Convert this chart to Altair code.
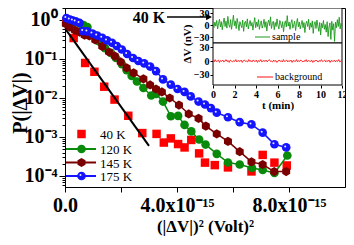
import altair as alt
import pandas as pd

FONT = "Liberation Serif"

# ---- main panel data: x in units of 1e-15 V^2, P(|dV|) ----
x40 = [0.05, 0.31, 0.72, 1.05, 1.40, 1.77, 2.26, 2.76, 3.27, 3.53, 3.78, 4.04, 4.27, 4.51,
       4.79, 5.00, 5.35, 5.82, 6.66, 7.06, 7.48, 7.92]
p40 = [0.9, 0.345, 0.079, 0.047, 0.0195, 0.0091, 0.0035, 0.00126, 0.0012, 0.00072, 0.00092,
       0.00066, 0.00054, 0.00084, 0.00038, 0.00022, 0.00019, 0.000166, 0.000131, 0.000347,
       0.00022, 0.000186]

x120 = [0.07, 0.21, 0.35, 0.52, 0.66, 0.80, 1.05, 1.22, 1.43, 1.64, 1.82, 2.03, 2.20, 2.38,
        2.57, 2.80, 3.08, 3.25, 3.50, 3.78, 4.04, 4.27, 4.51, 4.79, 5.02, 5.42, 5.82, 6.24,
        6.68, 7.06, 7.48, 7.94]
p120 = [1.06, 1.0, 0.89, 0.81, 0.74, 0.66, 0.41, 0.28, 0.19, 0.143, 0.106, 0.074, 0.052,
        0.037, 0.0265, 0.018, 0.0116, 0.0127, 0.0081, 0.0034, 0.00347, 0.00204, 0.00139,
        0.00086, 0.00064, 0.00037, 0.000222, 0.000197, 0.00016, 0.000143, 0.000119, 0.000336]

x145 = [0.03, 0.17, 0.35, 0.52, 0.70, 0.87, 1.08, 1.33, 1.57, 1.78, 1.99, 2.20, 2.45, 2.80,
        3.04, 3.25, 3.46, 3.74, 4.07, 4.42, 4.77, 5.03, 5.42, 5.82, 6.24, 6.66, 7.06, 7.47, 7.90]
p145 = [0.79, 0.66, 0.55, 0.49, 0.41, 0.39, 0.31, 0.21, 0.151, 0.119, 0.084, 0.059, 0.044,
        0.031, 0.0216, 0.017, 0.0143, 0.01, 0.0066, 0.0039, 0.003, 0.0019, 0.0012, 0.00077,
        0.00042, 0.00023, 0.000197, 0.00013, 0.00013]

x175 = [0.05, 0.17, 0.28, 0.38, 0.52, 0.65, 0.80, 0.98, 1.15, 1.33, 1.50, 1.68, 1.85, 2.03,
        2.22, 2.43, 2.62, 2.83, 3.04, 3.25, 3.50, 3.78, 4.02, 4.27, 4.49, 4.77, 5.00, 5.21,
        5.42, 5.82, 6.24, 6.66, 7.06, 7.48, 7.90]
p175 = [1.12, 1.03, 0.97, 0.92, 0.84, 0.52, 0.51, 0.45, 0.40, 0.35, 0.30, 0.26, 0.215, 0.175,
        0.134, 0.106, 0.089, 0.077, 0.064, 0.049, 0.030, 0.022, 0.017, 0.0143, 0.011, 0.0081,
        0.0068, 0.0055, 0.0042, 0.0032, 0.0024, 0.0021, 0.00129, 0.00065, 0.00054]

fit_x = [0.0, 3.0]
fit_p = [0.61, 0.00059]

series_labels = ["40 K", "120 K", "145 K", "175 K"]

# ---- inset data (nV vs minutes) ----
sample_nv = [3, -6, 8, -2, 12, -9, 5, 15, -4, 9, -11, 6, 18, -3, 10, -7, 22, 2, -5, 14,
             -10, 7, 25, -1, 11, -8, 17, 4, -13, 9, 1, -6, 13, -15, 6, 10, -4, 16, -9, 3,
             12, -2, 7, -12, 5, 19, -6, 8, -3, 14, -10, 4, 11, -7, 2, 15, -5, 9, -14, 6,
             13, -1, 21, -8, 5, 10, -11, 7, -3, 16, 0, -9, 12, 4, -6, 9, -16, 3, 11, -4,
             24, -2, 8, -10, 6, 14, -7, 1, 10, -13, 5, 17, -4, 8, -9, 2, 12, -6, 7, -18,
             4, 10, -3, 15, -11, 6, -5, 11, -20, 3, 9, -8, 13, -2, -15, 7, -24, 5, -6, 12,
             -10, 2, -17, 9, -28, -4, 6, -35, 10, -12, 4, -40, 8, -6, 14, -3, 20, -9, 5, -2]
background_nv = [1, -2, 3, -1, 0, 2, -3, 1, -1, 2, -2, 0, 3, -1, 1, -3, 2, 0, -2, 1,
                 -1, 3, -2, 1, 0, -1, 2, -3, 1, 2, -1, 0, -2, 3, -1, 1, -2, 2, 0, -1,
                 2, -3, 1, -1, 3, -2, 0, 1, -1, 2, -2, 1, 3, -1, 0, -2, 2, -1, 1, -3,
                 0, 2, -1, 1, -2, 3, -1, 0, 2, -2, 1, -1, 2, -3, 1, 0, -1, 3, -2, 1,
                 -1, 2, 0, -2, 1, -1, 3, -2, 1, 0, -1, 2, -3, 1, -1, 2, 0, -2, 1, -1,
                 3, -1, 0, 2, -2, 1, -1, 2, -3, 1, 0, -1, 2, -2, 1, -1, 3, -2, 0, 1]
T_MAX = 12

# ---- frames ----
df40 = pd.DataFrame({"x": x40, "p": p40})
df120 = pd.DataFrame({"x": x120, "p": p120})
df145 = pd.DataFrame({"x": x145, "p": p145})
df175 = pd.DataFrame({"x": x175, "p": p175})
dffit = pd.DataFrame({"x": fit_x, "p": fit_p})
dfs = pd.DataFrame({"t": [i * T_MAX / (len(sample_nv) - 1) for i in range(len(sample_nv))],
                    "v": sample_nv})
dfb = pd.DataFrame({"t": [i * T_MAX / (len(background_nv) - 1) for i in range(len(background_nv))],
                    "v": background_nv})

RED, GREEN, WINE, BLUE = "#ff0000", "#0a8a0a", "#7a0000", "#1414ff"
HEX = "M0,-1L0.866,-0.5L0.866,0.5L0,1L-0.866,0.5L-0.866,-0.5Z"

W, H = 280, 179

dec = "abs(log(datum.value)/LN10 - round(log(datum.value)/LN10)) < 0.001"
ylab = ("%s ? ('10' + ['\u2070','\u207b\u00b9','\u207b\u00b2','\u207b\u00b3','\u207b\u2074','\u207b\u2075']"
        "[-round(log(datum.value)/LN10)]) : ''" % dec)
yticks = []
for e in range(-5, 1):
    for k in range(1, 10):
        v = k * 10 ** e
        if 5.22e-5 <= v <= 2.03:
            yticks.append(v)

xaxis = alt.Axis(values=[0, 2, 4, 6, 8], grid=False,
                 labelExpr="datum.value == 0 ? '0.0' : datum.value == 4 ? '4.0x10\u207b\u00b9\u2075' : datum.value == 8 ? '8.0x10\u207b\u00b9\u2075' : ''",
                 title="(|\u0394V|)\u00b2 (Volt)\u00b2", titleFont=FONT, titleFontSize=17,
                 titleFontWeight="bold", titleColor="black", titlePadding=3,
                 labelFont=FONT, labelFontSize=20, labelFontWeight="bold", labelColor="black",
                 labelPadding=3, tickSize=5, tickColor="black", domainColor="black",
                 labelOverlap=False, labelFlush=False)
yaxis = alt.Axis(values=yticks, grid=False, labelExpr=ylab,
                 title="P(|\u0394V|)", titleFont=FONT, titleFontSize=20, titleFontWeight="bold",
                 titleColor="black", titleX=-45, titleY=H / 2 + 5, titleAngle=270,
                 titleAlign="center", titleBaseline="middle",
                 labelFont=FONT, labelFontSize=20, labelFontWeight="bold", labelColor="black",
                 labelPadding=2, tickColor="black", domainColor="black", labelOverlap=False,
                 tickSize={"condition": {"test": dec, "value": 6}, "value": 3})
xs = alt.Scale(domain=[0, 10], nice=False, zero=False)
ys = alt.Scale(type="log", domain=[5.22e-5, 2.03], nice=False)
X = alt.X("x:Q", scale=xs, axis=xaxis)
Y = alt.Y("p:Q", scale=ys, axis=yaxis)

def pts(df, **kw):
    return alt.Chart(df).mark_point(filled=True, opacity=1, **kw).encode(x=X, y=Y)

def ln(df, color):
    return alt.Chart(df).mark_line(color=color, strokeWidth=1.5).encode(x=X, y=Y)

main_layers = [
    pts(df40, shape="square", size=72, color=RED),
    alt.Chart(dffit).mark_line(color="black", strokeWidth=2).encode(x=X, y=Y),
    ln(df120, GREEN), pts(df120, shape="circle", size=75, color=GREEN),
    ln(df145, WINE), pts(df145, shape=HEX, size=85, color=WINE),
    ln(df175, BLUE), pts(df175, shape="circle", size=75, color=BLUE),
    alt.Chart(df175).mark_point(filled=True, opacity=0.9, shape="circle", size=4, color="white",
                                xOffset=-1, yOffset=-1).encode(x=X, y=Y),
]

# legend (bottom-left inside plot)
leg_y = [126, 141, 154.5, 168]
leg_specs = [(RED, "square", 72, False), (GREEN, "circle", 75, True),
             (WINE, HEX, 85, True), (BLUE, "circle", 75, True)]
for i, lab in enumerate(series_labels):
    d = pd.DataFrame({"label": [lab]})
    color, shape, size, has_line = leg_specs[i]
    if has_line:
        main_layers.append(alt.Chart(d).mark_rule(color=color, strokeWidth=2).encode(
            x=alt.value(1), x2=alt.value(31), y=alt.value(leg_y[i])))
    main_layers.append(alt.Chart(d).mark_point(filled=True, opacity=1, shape=shape, size=size,
                                               color=color).encode(
        x=alt.value(16.5), y=alt.value(leg_y[i])))
    if i == 3:
        main_layers.append(alt.Chart(d).mark_point(filled=True, opacity=0.9, shape="circle", size=4,
                                                   color="white", xOffset=-1, yOffset=-1).encode(
            x=alt.value(16.5), y=alt.value(leg_y[i])))
    main_layers.append(alt.Chart(d).mark_text(font=FONT, fontSize=13, align="left",
                                              baseline="middle", color="black").encode(
        x=alt.value(35), y=alt.value(leg_y[i] + 1), text="label:N"))

# "40 K" arrow annotation
ann = pd.DataFrame({"label": ["40 K"]})
main_layers += [
    alt.Chart(ann).mark_text(font=FONT, fontSize=16, fontWeight="bold", align="center",
                             baseline="middle", color="black").encode(
        x=alt.value(84), y=alt.value(10), text="label:N"),
    alt.Chart(ann).mark_rule(color="black", strokeWidth=1.3).encode(
        x=alt.value(102), x2=alt.value(142), y=alt.value(9)),
    alt.Chart(ann).mark_point(shape="triangle-right", filled=True, opacity=1, size=45,
                              color="black").encode(x=alt.value(144), y=alt.value(9)),
    alt.Chart(ann).mark_text(font=FONT, fontSize=11, fontWeight="bold", angle=270,
                             align="center", baseline="middle", color="black").encode(
        x=alt.value(123), y=alt.value(36), text=alt.value("\u0394V (nV)")),
]
main = alt.layer(*main_layers)

# ---- inset ----
IX = [148, 277]
TOP_R, BOT_R = [35, 0], [77, 35]
TOP_D, BOT_D = [-44, 43], [-52, 39]

def inset_y(domain, rng):
    return alt.Scale(domain=domain, range=rng, nice=False, zero=False)

ix_scale = alt.Scale(domain=[0, T_MAX], range=IX, nice=False, zero=False)
iy_axis = dict(orient="left", offset=-IX[0], values=[30, 0, -30], grid=False, title=None,
               labelFont=FONT, labelFontSize=10, labelFontWeight="bold", labelColor="black",
               labelPadding=1, tickSize=3, tickColor="black", domain=False)

frame_top = pd.DataFrame({"t0": [0], "t1": [T_MAX], "v0": [TOP_D[0]], "v1": [TOP_D[1]]})
frame_bot = pd.DataFrame({"t0": [0], "t1": [T_MAX], "v0": [BOT_D[0]], "v1": [BOT_D[1]]})

top_x = alt.X("t:Q", scale=ix_scale, axis=None)
top_y = alt.Y("v:Q", scale=inset_y(TOP_D, TOP_R), axis=alt.Axis(**iy_axis))
inset_top = alt.layer(
    alt.Chart(frame_top).mark_rect(fill="white", stroke="black", strokeWidth=1).encode(
        x=alt.X("t0:Q", scale=ix_scale, axis=None), x2="t1:Q",
        y=alt.Y("v0:Q", scale=inset_y(TOP_D, TOP_R), axis=alt.Axis(**iy_axis)), y2="v1:Q"),
    alt.Chart(dfs).mark_line(color="#1a9a1a", strokeWidth=0.9).encode(x=top_x, y=top_y),
    alt.Chart(pd.DataFrame({"label": ["sample"]})).mark_rule(color="#1a9a1a", strokeWidth=1).encode(
        x=alt.value(190), x2=alt.value(205), y=alt.value(29)),
    alt.Chart(pd.DataFrame({"label": ["sample"]})).mark_text(
        font=FONT, fontSize=10, align="left", baseline="middle", color="black").encode(
        x=alt.value(207), y=alt.value(29), text="label:N"),
)

bot_xaxis = alt.Axis(orient="bottom", offset=BOT_R[0] - H, values=list(range(0, 13, 2)),
                     grid=False, title="t (min)", titleFont=FONT, titleFontSize=11,
                     titleFontWeight="bold", titleColor="black", titlePadding=0,
                     labelFont=FONT, labelFontSize=10, labelFontWeight="bold",
                     labelColor="black", labelPadding=1, tickSize=3, tickColor="black",
                     domain=False, labelFlush=False)
bot_x = alt.X("t:Q", scale=ix_scale, axis=bot_xaxis)
bot_y = alt.Y("v:Q", scale=inset_y(BOT_D, BOT_R), axis=alt.Axis(**iy_axis))
inset_bot = alt.layer(
    alt.Chart(frame_bot).mark_rect(fill="white", stroke="black", strokeWidth=1).encode(
        x=alt.X("t0:Q", scale=ix_scale, axis=bot_xaxis), x2="t1:Q",
        y=alt.Y("v0:Q", scale=inset_y(BOT_D, BOT_R), axis=alt.Axis(**iy_axis)), y2="v1:Q"),
    alt.Chart(dfb).mark_line(color="#ff1010", strokeWidth=0.9).encode(x=bot_x, y=bot_y),
    alt.Chart(pd.DataFrame({"label": ["background"]})).mark_rule(color="#ff1010", strokeWidth=1).encode(
        x=alt.value(192), x2=alt.value(208), y=alt.value(69)),
    alt.Chart(pd.DataFrame({"label": ["background"]})).mark_text(
        font=FONT, fontSize=10, align="left", baseline="middle", color="black").encode(
        x=alt.value(210), y=alt.value(69), text="label:N"),
)

chart = alt.layer(main, inset_top, inset_bot).resolve_scale(
    x="independent", y="independent"
).properties(
    width=W, height=H,
    padding={"left": 57, "top": 0, "right": 1, "bottom": 50},
    autosize=alt.AutoSizeParams(type="none"),
    background="white",
).configure_view(stroke="black", strokeWidth=1)

chart.save("out.html", embed_options={"renderer": "svg", "actions": False})
